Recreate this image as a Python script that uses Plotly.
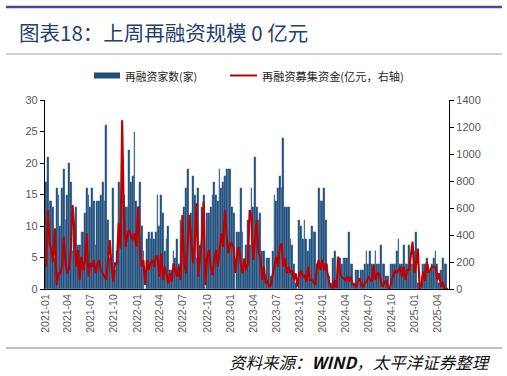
import pandas as pd
import plotly.graph_objects as go

# Weekly periods (week ending Friday), 2021-01-08 .. 2025-05-16
week_dates = pd.date_range("2021-01-08", periods=228, freq="7D")

# 再融资家数(家)
counts = [
    17, 21, 14, 14, 13, 5, 16, 15, 10, 16, 19, 11, 15, 20, 17, 6, 10, 13, 7, 7,
    9, 9, 12, 16, 15, 13, 16, 14, 7, 14, 14, 15, 17, 14, 26, 11, 5, 5, 16, 3,
    6, 17, 11, 17, 15, 13, 13, 22, 17, 18, 25, 14, 13, 17, 10, 6, 0, 8, 9, 8,
    9, 8, 9, 15, 10, 15, 12, 6, 8, 10, 3, 3, 6, 5, 8, 4, 11, 8, 13, 16,
    19, 10, 12, 18, 15, 5, 16, 7, 13, 15, 0, 12, 12, 13, 15, 17, 15, 14, 19, 16,
    17, 18, 19, 19, 19, 13, 12, 0, 9, 9, 16, 9, 4, 7, 11, 7, 16, 13, 21, 13,
    11, 12, 6, 6, 2, 5, 5, 2, 6, 15, 14, 16, 18, 16, 24, 13, 13, 13, 8, 7,
    4, 1, 0, 11, 10, 8, 11, 8, 6, 8, 10, 9, 9, 4, 16, 14, 14, 16, 11, 4,
    2, 1, 5, 6, 0, 5, 5, 4, 5, 5, 5, 9, 4, 4, 1, 3, 3, 1, 3, 3,
    4, 6, 4, 6, 4, 4, 6, 4, 4, 7, 4, 4, 2, 2, 0, 4, 4, 4, 6, 8,
    4, 4, 7, 4, 4, 7, 4, 4, 6, 9, 1, 0, 2, 4, 4, 5, 4, 3, 4, 5,
    6, 4, 1, 3, 5, 4, 4, 0,
]

# 再融资募集资金(亿元，右轴)
funds = [
    165, 585, 338, 289, 200, 449, 30, 116, 116, 165, 388, 190, 116, 150, 277, 622, 437, 165, 289, 67,
    240, 140, 214, 412, 91, 190, 165, 214, 116, 180, 214, 140, 116, 90, 67, 214, 363, 165, 54, 190,
    190, 486, 300, 1250, 523, 313, 412, 437, 388, 363, 412, 313, 610, 289, 165, 215, 30, 215, 140, 190,
    215, 165, 240, 240, 91, 264, 67, 165, 116, 42, 116, 54, 190, 140, 91, 165, 67, 548, 190, 116,
    313, 548, 363, 190, 338, 634, 91, 240, 363, 647, 30, 240, 289, 165, 104, 215, 289, 165, 289, 412,
    313, 585, 388, 264, 338, 338, 301, 120, 264, 313, 190, 116, 227, 140, 190, 585, 536, 215, 363, 511,
    264, 240, 67, 165, 42, 67, 17, 30, 104, 165, 240, 165, 313, 338, 165, 227, 116, 165, 116, 140,
    67, 116, 17, 116, 128, 91, 104, 54, 165, 67, 67, 54, 30, 165, 215, 140, 215, 140, 190, 116,
    42, 17, 5, 67, 5, 240, 116, 91, 79, 67, 91, 54, 91, 42, 30, 17, 54, 79, 30, 17,
    42, 54, 91, 67, 54, 178, 67, 116, 116, 67, 17, 42, 67, 17, 0, 54, 91, 140, 116, 140,
    165, 91, 165, 67, 140, 140, 240, 350, 120, 180, 300, 0, 30, 130, 60, 200, 120, 140, 165, 165,
    165, 67, 116, 17, 54, 5, 5, 0,
]

tick_labels = [
    "2021-01", "2021-04", "2021-07", "2021-10", "2022-01", "2022-04", "2022-07",
    "2022-10", "2023-01", "2023-04", "2023-07", "2023-10", "2024-01", "2024-04",
    "2024-07", "2024-10", "2025-01", "2025-04",
]

title_text = "图表18：上周再融资规模 0 亿元"
bar_name = "再融资家数(家)"
line_name = "再融资募集资金(亿元，右轴)"
source_text = "资料来源：<b>WIND</b>，太平洋证券整理"

month_keys = [d.strftime("%Y-%m") for d in week_dates]
tick_vals = [week_dates[month_keys.index(lbl)] for lbl in tick_labels]

BAR_COLOR = "#1F4E79"
LINE_COLOR = "#C00000"
CJK = "Noto Sans CJK SC, Noto Sans, sans-serif"

fig = go.Figure()
fig.add_trace(go.Bar(
    x=week_dates, y=counts, name=bar_name,
    marker=dict(color=BAR_COLOR, line=dict(color="#6d8fb8", width=0.25)),
    yaxis="y",
))
fig.add_trace(go.Scatter(
    x=week_dates, y=funds, name=line_name, mode="lines",
    line=dict(color=LINE_COLOR, width=2.1),
    yaxis="y2",
))

# plot area in pixels: x 45..449, y 100..289
W, H = 507, 376
L, R, T, B = 45, 449, 100, 289
def px(x):
    return (x - L) / (R - L)
def py(y):
    return (B - y) / (B - T)

shapes = [
    dict(type="line", xref="paper", yref="paper", x0=px(6), x1=px(502), y0=py(7), y1=py(7),
         line=dict(color="#4A4A8C", width=2.5)),
    dict(type="line", xref="paper", yref="paper", x0=px(6), x1=px(502), y0=py(54), y1=py(54),
         line=dict(color="#A0A0C8", width=1)),
    dict(type="line", xref="paper", yref="paper", x0=px(6), x1=px(502), y0=py(348), y1=py(348),
         line=dict(color="#7C7CAA", width=1)),
    # legend swatches
    dict(type="rect", xref="paper", yref="paper", x0=px(94), x1=px(120), y0=py(78.5), y1=py(72.5),
         fillcolor=BAR_COLOR, line=dict(width=0)),
    dict(type="line", xref="paper", yref="paper", x0=px(230), x1=px(257), y0=py(75.5), y1=py(75.5),
         line=dict(color=LINE_COLOR, width=2)),
]

annotations = [
    dict(text=title_text, xref="paper", yref="paper", x=px(17), y=py(32), xanchor="left", yanchor="middle",
         showarrow=False, font=dict(family=CJK, size=20.5, color="#24406E")),
    dict(text=bar_name, xref="paper", yref="paper", x=px(123), y=py(75.5), xanchor="left", yanchor="middle",
         showarrow=False, font=dict(family=CJK, size=10.8, color="#262626")),
    dict(text=line_name, xref="paper", yref="paper", x=px(260), y=py(75.5), xanchor="left", yanchor="middle",
         showarrow=False, font=dict(family=CJK, size=11.2, color="#262626")),
    dict(text="<i>" + source_text + "</i>", xref="paper", yref="paper", x=px(493), y=py(362),
         xanchor="right", yanchor="middle", showarrow=False,
         font=dict(family=CJK, size=16.5, color="#111111")),
]

fig.update_layout(
    width=W, height=H,
    margin=dict(l=L, r=W - R, t=T, b=H - B, pad=0),
    paper_bgcolor="white", plot_bgcolor="white",
    showlegend=False,
    bargap=0,
    shapes=shapes,
    annotations=annotations,
    xaxis=dict(
        type="date",
        range=["2021-01-04", "2025-05-20"],
        tickvals=tick_vals, ticktext=tick_labels,
        tickangle=-90,
        tickfont=dict(family="Liberation Sans, Arial, sans-serif", size=10.5, color="#595959"),
        showline=True, linecolor="#000000", linewidth=1,
        showgrid=False, ticks="", zeroline=False,
    ),
    yaxis=dict(
        range=[0, 30], dtick=5,
        tickfont=dict(family="Liberation Sans, Arial, sans-serif", size=11, color="#595959"),
        showline=True, linecolor="#000000", linewidth=1.2,
        ticks="outside", ticklen=4, tickcolor="#000000",
        showgrid=False, zeroline=False,
    ),
    yaxis2=dict(
        range=[0, 1400], dtick=200, overlaying="y", side="right",
        tickfont=dict(family="Liberation Sans, Arial, sans-serif", size=11, color="#595959"),
        showline=True, linecolor="#000000", linewidth=1.2,
        ticks="outside", ticklen=4, tickcolor="#000000",
        showgrid=False, zeroline=False,
    ),
)

fig.write_html(
    "out.html",
    config={"displayModeBar": False},
    post_script="document.body.style.margin='0';document.body.style.overflow='hidden';",
)
